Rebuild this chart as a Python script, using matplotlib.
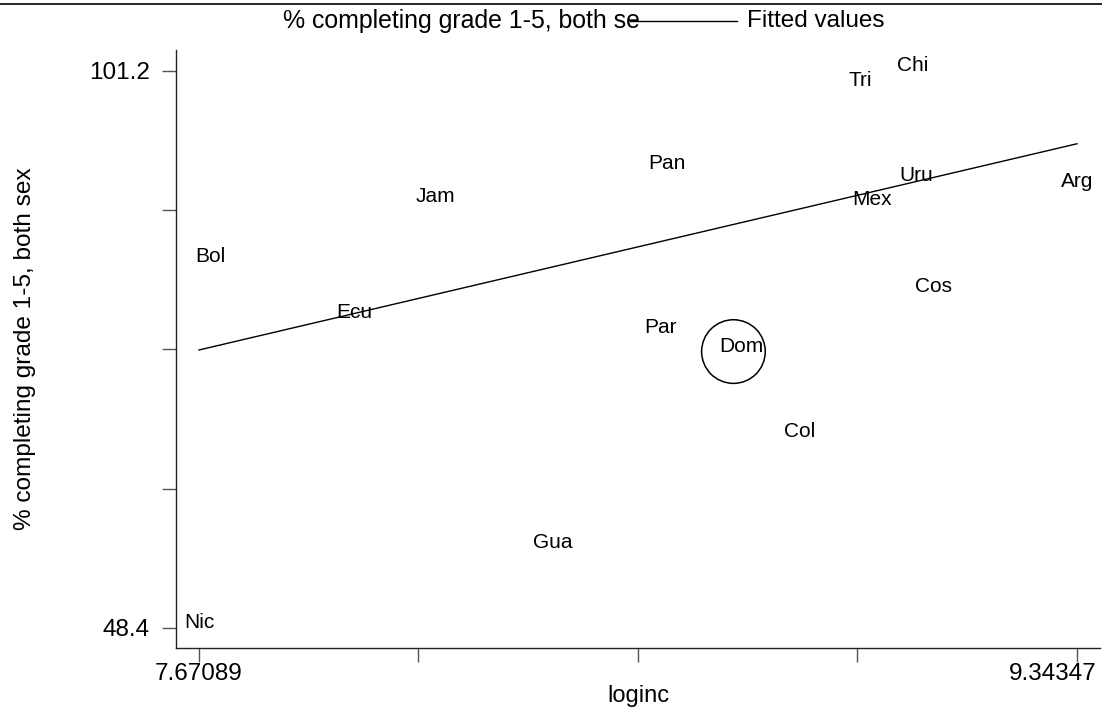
#!/usr/bin/env python3
"""
Scatter of % completing grade 1-5 against log income, with fitted line.
Stata-like look: country labels in place of markers, legend on top.
"""

import matplotlib
matplotlib.use("Agg")
import matplotlib.pyplot as plt
import matplotlib.transforms as mtransforms
from matplotlib.lines import Line2D

plt.rcParams["font.family"] = ["Liberation Sans", "DejaVu Sans"]

# data
countries = ["Chi", "Tri", "Pan", "Uru", "Arg", "Mex", "Jam", "Bol",
             "Cos", "Ecu", "Par", "Dom", "Col", "Gua", "Nic"]
loginc = [9.031, 8.930, 8.562, 9.037, 9.34347, 8.953, 8.121, 7.692,
          9.071, 7.966, 8.551, 8.689, 8.816, 8.345, 7.67089]
completing = [101.2, 99.8, 91.9, 90.8, 90.2, 88.5, 88.8, 83.1,
              80.2, 77.8, 76.4, 74.6, 66.5, 56.0, 48.4]

# highlighted observation (hollow circle)
highlight = "Dom"

# fitted values at the ends of the x range
fit_x = [7.67089, 9.34347]
fit_y = [74.75, 94.30]

x_ticks = [7.67089, 8.089035, 8.50718, 8.925325, 9.34347]
x_ticklabels = ["7.67089", "", "", "", "9.34347"]
y_ticks = [48.4, 61.6, 74.8, 88.0, 101.2]
y_ticklabels = ["48.4", "", "", "", "101.2"]

OUTPUT_FILE = "out.png"


def main():
    fig = plt.figure(figsize=(11.02, 7.13), dpi=100)
    ax = fig.add_axes([0.1597, 0.0912, 0.8385, 0.8387])

    # fitted line
    ax.plot(fit_x, fit_y, color="black", linewidth=1.0)

    # country labels centred on the points
    for name, x, y in zip(countries, loginc, completing):
        dx = 6 if name == highlight else 0
        ax.annotate(name, (x, y), xytext=(dx, 4), textcoords="offset points",
                    ha="center", va="center", fontsize=15, color="black")

    # hollow circle for the highlighted point
    i = countries.index(highlight)
    ax.scatter([loginc[i]], [completing[i]], s=2100, facecolors="none",
               edgecolors="black", linewidths=1.1, zorder=3)

    ax.set_xlim(7.6271, 9.3873)
    ax.set_ylim(46.50, 103.19)

    ax.set_xticks(x_ticks)
    ax.set_xticklabels(x_ticklabels)
    ax.set_yticks(y_ticks)
    ax.set_yticklabels(y_ticklabels)
    ax.tick_params(axis="both", length=10, width=1.0, color="#555555",
                   labelsize=17.5)
    ax.tick_params(axis="x", pad=1)
    ax.tick_params(axis="y", pad=9)

    # last x label sits right-aligned, pushed past its tick like Stata does
    last = ax.get_xticklabels()[-1]
    last.set_horizontalalignment("right")
    last.set_transform(last.get_transform() +
                       mtransforms.ScaledTranslation(0.20, 0, fig.dpi_scale_trans))

    for side in ("top", "right"):
        ax.spines[side].set_visible(False)
    for side in ("left", "bottom"):
        ax.spines[side].set_linewidth(1.0)
        ax.spines[side].set_color("#222222")

    ax.set_xlabel("loginc", fontsize=17, labelpad=0)
    ax.set_ylabel("% completing grade 1-5, both sex", fontsize=17.6)
    ax.yaxis.set_label_coords(-0.152, 0.5)

    # legend drawn by hand, Stata style (first key empty, text runs into line)
    fig.add_artist(Line2D([0, 1], [0.9944, 0.9944], transform=fig.transFigure,
                          color="black", linewidth=1.2))
    fig.text(283 / 1102, 1 - 21 / 713, "% completing grade 1-5, both se",
             fontsize=17.9, ha="left", va="center")
    fig.add_artist(Line2D([630 / 1102, 737 / 1102], [1 - 21 / 713, 1 - 21 / 713],
                          transform=fig.transFigure, color="black", linewidth=1.0))
    fig.text(747 / 1102, 1 - 21 / 713, "Fitted values",
             fontsize=17.5, ha="left", va="center")

    fig.savefig(OUTPUT_FILE, dpi=100)
    plt.close(fig)


if __name__ == "__main__":
    main()
